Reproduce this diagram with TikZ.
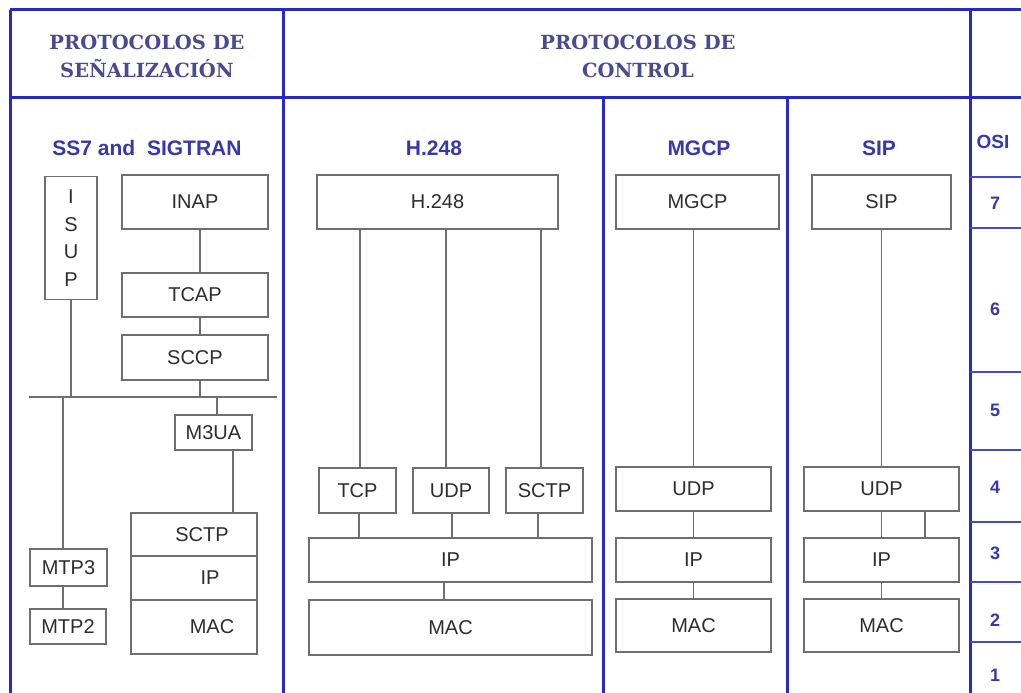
\documentclass[tikz,border=0pt]{standalone}
\usepackage{fontspec}
\setmainfont{Liberation Sans}
\newfontfamily\hdrserif{DejaVu Serif}
\usetikzlibrary{positioning,calc}
\definecolor{frameblue}{RGB}{40,40,200}
\definecolor{hdrblue}{RGB}{74,74,146}
\definecolor{subblue}{RGB}{55,55,175}
\definecolor{linegray}{RGB}{110,110,110}
\definecolor{txtgray}{RGB}{45,45,45}
\tikzset{
  pbox/.style  ={draw=linegray, line width=1.5pt, rectangle, inner sep=0pt,
                 text=txtgray, font=\fontsize{20}{24}\selectfont},
  link/.style  ={draw=linegray, line width=1.5pt},
  rule/.style  ={draw=frameblue, line width=3pt},
  osirule/.style={draw=frameblue!85, line width=1.5pt},
  hdr/.style   ={text=hdrblue, align=center,
                 font=\hdrserif\bfseries\fontsize{19.5}{28}\selectfont},
  colhd/.style ={text=subblue, font=\bfseries\fontsize{21}{24}\selectfont},
  osinum/.style={text=subblue, font=\bfseries\fontsize{18}{20}\selectfont},
}

\begin{document}
\begin{tikzpicture}[x=1pt,y=-1pt]
\fill[white] (0,0) rectangle (1021,693);
\useasboundingbox (0,0) rectangle (1021,693);

% frame
\draw[rule] (10,10) -- (1021,10);
\draw[rule] (10,98) -- (1021,98);
\draw[rule] (10,10) -- (10,693);
\draw[rule] (283,10) -- (283,693);
\draw[rule] (603,98) -- (603,693);
\draw[rule] (787,98) -- (787,693);
\draw[rule] (970,10) -- (970,693);
\foreach \yy in {177,228,372,450,522,582,642}
  \draw[osirule] (970,\yy) -- (1021,\yy);

% headers
\node[hdr] (hsig) at (147,56) {PROTOCOLOS DE\\SEÑALIZACIÓN};
\node[hdr] (hctl) at (638,56) {PROTOCOLOS DE\\CONTROL};
\node[colhd] (tss7)  at (147,148) {SS7 and\ \ SIGTRAN};
\node[colhd] (th248) at (434,148) {H.248};
\node[colhd] (tmgcp) at (699,148) {MGCP};
\node[colhd] (tsip)  at (879,148) {SIP};
\node[colhd, font=\bfseries\fontsize{19}{22}\selectfont] (tosi) at (993,142) {OSI};

% OSI layers
\node[osinum] (l7) at (995,203) {7};
\node[osinum] (l6) at (995,309) {6};
\node[osinum] (l5) at (995,410) {5};
\node[osinum] (l4) at (995,487) {4};
\node[osinum] (l3) at (995,553) {3};
\node[osinum] (l2) at (995,620) {2};
\node[osinum] (l1) at (995,675) {1};

% SS7 / SIGTRAN
\node[pbox, minimum width=52pt, minimum height=123pt, align=center,
      font=\fontsize{20}{27.7}\selectfont] (isup) at (71,238) {I\\S\\U\\P};
\node[pbox, minimum width=146pt, minimum height=54pt] (inap) at (195,202) {INAP};
\node[pbox, minimum width=146pt, minimum height=44pt] (tcap) at (195,295) {TCAP};
\node[pbox, minimum width=146pt, minimum height=45pt] (sccp) at (195,357.5) {SCCP};
\coordinate (busl) at (29,397);
\coordinate (busr) at (277,397);
\node[pbox, minimum width=77pt, minimum height=35pt] (m3ua) at (213.5,432.5) {M3UA};
\node[pbox, minimum width=126pt, minimum height=43pt] (sctpa) at (194,534.5) {\hspace*{16pt}SCTP};
\node[pbox, minimum width=126pt, minimum height=44pt] (ipa) at (194,578) {\hspace*{32pt}IP};
\node[pbox, minimum width=126pt, minimum height=54pt] (maca) at (194,627) {\hspace*{36pt}MAC};
\node[pbox, minimum width=77pt, minimum height=37pt] (mtp3) at (68.5,567.5) {MTP3};
\node[pbox, minimum width=76pt, minimum height=35pt] (mtp2) at (68,626.5) {MTP2};

\draw[link] (busl) -- (busr);
\draw[link] (isup.south) -- (isup.south |- busl);
\draw[link] ([xshift=5pt]inap.south) -- ([xshift=5pt]tcap.north);
\draw[link] ([xshift=5pt]tcap.south) -- ([xshift=5pt]sccp.north);
\draw[link] ([xshift=5pt]sccp.south) -- ([xshift=5pt]sccp.south |- busl);
\draw[link] ([xshift=3.5pt]m3ua.north |- busl) -- ([xshift=3.5pt]m3ua.north);
\draw[link] ([xshift=19.5pt]m3ua.south) -- ([xshift=19.5pt]m3ua.south |- sctpa.north);
\draw[link] ([xshift=-5.5pt]mtp3.north |- busl) -- ([xshift=-5.5pt]mtp3.north);
\draw[link] ([xshift=-5.5pt]mtp3.south) -- ([xshift=-5.5pt]mtp3.south |- mtp2.north);

% H.248
\node[pbox, minimum width=241pt, minimum height=54pt] (h248) at (437.5,202) {H.248};
\node[pbox, minimum width=77pt, minimum height=45pt] (tcp) at (357.5,490.5) {TCP};
\node[pbox, minimum width=76pt, minimum height=45pt] (udpb) at (451,490.5) {UDP};
\node[pbox, minimum width=77pt, minimum height=45pt] (sctpb) at (544.5,490.5) {SCTP};
\node[pbox, minimum width=283pt, minimum height=44pt] (ipb) at (450.5,560) {IP};
\node[pbox, minimum width=283pt, minimum height=55pt] (macb) at (450.5,627.5) {MAC};

\draw[link] ([xshift=2.5pt]tcp.north |- h248.south) -- ([xshift=2.5pt]tcp.north);
\draw[link] ([xshift=-5pt]udpb.north |- h248.south) -- ([xshift=-5pt]udpb.north);
\draw[link] ([xshift=-3.5pt]sctpb.north |- h248.south) -- ([xshift=-3.5pt]sctpb.north);
\draw[link] ([xshift=1.5pt]tcp.south) -- ([xshift=1.5pt]tcp.south |- ipb.north);
\draw[link] ([xshift=1pt]udpb.south) -- ([xshift=1pt]udpb.south |- ipb.north);
\draw[link] ([xshift=-6.5pt]sctpb.south) -- ([xshift=-6.5pt]sctpb.south |- ipb.north);
\draw[link] ([xshift=-6.5pt]ipb.south) -- ([xshift=-6.5pt]macb.north);

% MGCP
\node[pbox, minimum width=163pt, minimum height=54pt] (mgcp) at (697.5,202) {MGCP};
\node[pbox, minimum width=155pt, minimum height=44pt] (udpc) at (693.5,489) {UDP};
\node[pbox, minimum width=155pt, minimum height=44pt] (ipc) at (693.5,560) {IP};
\node[pbox, minimum width=155pt, minimum height=53pt] (macc) at (693.5,625.5) {MAC};

\draw[link] (udpc.north |- mgcp.south) -- (udpc.north);
\draw[link] (udpc.south) -- (ipc.north);
\draw[link] (ipc.south) -- (macc.north);

% SIP
\node[pbox, minimum width=139pt, minimum height=54pt] (sip) at (881.5,202) {SIP};
\node[pbox, minimum width=155pt, minimum height=44pt] (udpd) at (881.5,489) {UDP};
\node[pbox, minimum width=155pt, minimum height=44pt] (ipd) at (881.5,560) {IP};
\node[pbox, minimum width=155pt, minimum height=53pt] (macd) at (881.5,625.5) {MAC};

\draw[link] (sip.south) -- (sip.south |- udpd.north);
\draw[link] (udpd.south) -- (ipd.north);
\draw[link] ([xshift=43.5pt]udpd.south) -- ([xshift=43.5pt]ipd.north);
\draw[link] (ipd.south) -- (macd.north);
\end{tikzpicture}
\end{document}
